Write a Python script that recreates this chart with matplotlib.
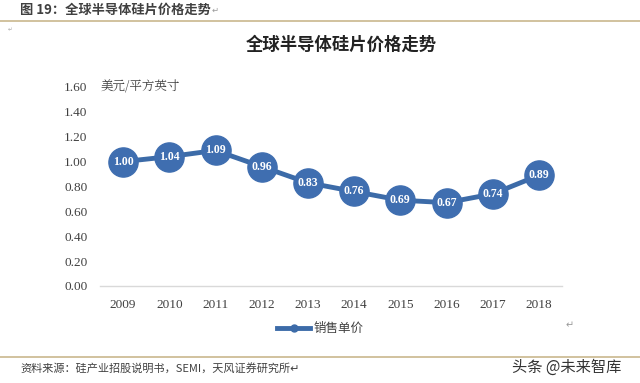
import matplotlib
matplotlib.use("Agg")
import matplotlib.pyplot as plt
from matplotlib.lines import Line2D

years = ["2009", "2010", "2011", "2012", "2013", "2014", "2015", "2016", "2017", "2018"]
prices = [1.00, 1.04, 1.09, 0.96, 0.83, 0.76, 0.69, 0.67, 0.74, 0.89]
yticks = [0.0, 0.2, 0.4, 0.6, 0.8, 1.0, 1.2, 1.4, 1.6]

CJK = ["Noto Sans CJK SC", "DejaVu Sans"]
SERIF = ["Liberation Serif", "Noto Sans CJK SC"]
W, H = 640, 383
fig = plt.figure(figsize=(W / 100, H / 100), dpi=100)
fig.patch.set_facecolor("white")

def px(x, y):
    return x / W, 1 - y / H

# header
fig.text(*px(20, 10), "图 19：全球半导体硅片价格走势", family=CJK, fontsize=9.5,
         fontweight="bold", color="#404040", va="center", ha="left")
fig.text(*px(212, 10), "↵", family=["DejaVu Sans"], fontsize=6, color="#999999", va="center")
fig.add_artist(Line2D([0, 1], [1 - 21 / H, 1 - 21 / H], color="#C9B88E", lw=1.2))
fig.text(*px(8, 30), "↵", family=["DejaVu Sans"], fontsize=4, color="#aaaaaa", va="center")

# chart title
fig.text(*px(341, 45), "全球半导体硅片价格走势", family=CJK, fontsize=12.5,
         fontweight="bold", color="#222222", va="center", ha="center")

ax = fig.add_axes([100 / W, (H - 286) / H, 462 / W, 199 / H])
x = list(range(len(years)))
color = "#3C6BA8"
ax.plot(x, prices, color=color, lw=3.5, marker="o", markersize=21,
        markerfacecolor="#3F6EB0", markeredgecolor="#3F6EB0", zorder=3)
for xi, v in zip(x, prices):
    ax.text(xi, v, f"{v:.2f}", ha="center", va="center", color="white",
            fontsize=8.5, fontweight="bold", family=SERIF, zorder=4)

ax.set_xlim(-0.5, len(years) - 0.5)
ax.set_ylim(0, 1.6)
ax.set_yticks(yticks)
ax.set_yticklabels([f"{t:.2f}" for t in yticks], family=SERIF, fontsize=9.5, color="#404040")
ax.set_xticks(x)
ax.set_xticklabels(years, family=SERIF, fontsize=9.5, color="#404040")
ax.tick_params(length=0, pad=9)
ax.tick_params(axis="y", pad=9)
for s in ["top", "right", "left"]:
    ax.spines[s].set_visible(False)
ax.spines["bottom"].set_color("#D9D9D9")
ax.spines["bottom"].set_linewidth(1)
ax.set_facecolor("none")

fig.text(*px(101, 87), "美元/平方英寸", family=["Noto Serif CJK SC", "Noto Sans CJK SC"],
         fontsize=9, color="#404040", va="center", ha="left")

# legend
fig.add_artist(Line2D([277 / W, 310 / W], [1 - 328 / H] * 2, color=color, lw=3.5))
fig.add_artist(Line2D([293.5 / W], [1 - 328 / H], color=color, marker="o", markersize=5))
fig.text(*px(314, 328), "销售单价", family=CJK, fontsize=9, color="#404040", va="center")
fig.text(*px(566, 325), "↵", family=["DejaVu Sans"], fontsize=7, color="#999999", va="center")

# footer
fig.add_artist(Line2D([0, 1], [1 - 357 / H] * 2, color="#C9B88E", lw=1.2))
fig.text(*px(20, 368), "资料来源：硅产业招股说明书，SEMI，天风证券研究所↵", family=CJK,
         fontsize=8, color="#404040", va="center", ha="left")
fig.text(*px(512, 367), "头条 @未来智库", family=CJK, fontsize=11,
         color="#333333", va="center", ha="left")

fig.savefig("out.png", dpi=100, facecolor="white")
